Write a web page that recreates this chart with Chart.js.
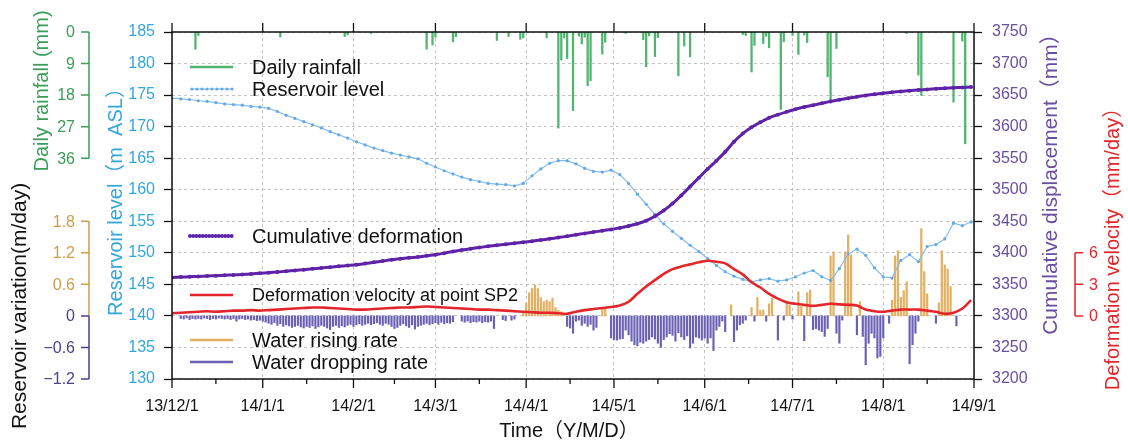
<!DOCTYPE html>
<html>
<head>
<meta charset="utf-8">
<script src="https://cdn.jsdelivr.net/npm/chart.js@4.4.1/dist/chart.umd.min.js"></script>
<style>
  html, body { margin: 0; padding: 0; background: #fff; }
  #wrap { width: 1128px; height: 444px; }
</style>
</head>
<body>
<div id="wrap"><canvas id="chart" width="1128" height="444"></canvas></div>
<script>
(function () {
  "use strict";

  var FONT = '"Liberation Sans", Arial, "Noto Sans CJK SC", sans-serif';

  /* ── Time axis: day offsets counted from 2013-12-01 ── */
  var monthDays = [0, 31, 62, 90, 121, 151, 182, 212, 243, 274];
  var monthLabels = ["13/12/1", "14/1/1", "14/2/1", "14/3/1", "14/4/1", "14/5/1", "14/6/1", "14/7/1", "14/8/1", "14/9/1"];
  var midMonthDays = [15, 46, 76, 105, 136, 166, 197, 227, 258];

  /* ── Monitoring series, sampled every third day ── */
  var sampleDays = [
    0, 3, 6, 9, 12, 15, 18, 21, 24, 27,
    30, 33, 36, 39, 42, 45, 48, 51, 54, 57,
    60, 63, 66, 69, 72, 75, 78, 81, 84, 87,
    90, 93, 96, 99, 102, 105, 108, 111, 114, 117,
    120, 123, 126, 129, 132, 135, 138, 141, 144, 147,
    150, 153, 156, 159, 162, 165, 168, 171, 174, 177,
    180, 183, 186, 189, 192, 195, 198, 201, 204, 207,
    210, 213, 216, 219, 222, 225, 228, 231, 234, 237,
    240, 243, 246, 249, 252, 255, 258, 261, 264, 267,
    270, 273
  ];

  // reservoir level, m ASL
  var reservoirLevel = [
    174.5, 174.4, 174.3, 174.1, 174.0, 173.8, 173.6, 173.5, 173.4, 173.2,
    173.1, 172.9, 172.4, 171.8, 171.3, 170.8, 170.3, 169.8, 169.2, 168.7,
    168.2, 167.6, 167.1, 166.6, 166.2, 165.8, 165.5, 165.2, 164.9, 164.2,
    163.6, 163.0, 162.5, 162.0, 161.6, 161.3, 161.0, 160.9, 160.8, 160.6,
    161.0, 162.2, 163.3, 164.2, 164.6, 164.6, 164.1, 163.4, 162.9, 162.8,
    163.1, 162.4, 161.0, 159.3, 157.7, 156.1, 154.6, 153.4, 152.3, 151.2,
    150.2, 149.1, 148.0, 147.0, 146.3, 145.8, 145.4, 145.7, 145.9, 145.5,
    145.7, 146.2, 146.8, 147.2, 146.2, 145.6, 147.5, 149.8, 150.6, 149.6,
    147.6, 146.2, 146.0, 148.8, 149.7, 148.6, 151.0, 151.3, 152.2, 154.7,
    154.3, 154.9
  ];

  // cumulative displacement, mm
  var cumulativeDisp = [
    3361, 3361.5, 3362, 3362.6, 3363.2, 3363.8, 3364.4, 3365, 3365.8, 3366.6,
    3367.5, 3368.5, 3369.6, 3370.8, 3372, 3373.3, 3374.6, 3376, 3377.3, 3378.6,
    3379.8, 3381, 3383, 3385, 3387, 3389, 3390.5, 3392, 3393.5, 3395.2,
    3397, 3399.5, 3402, 3404.3, 3406.5, 3408.5, 3410.3, 3412, 3413.6, 3415.2,
    3416.8, 3418.5, 3420.3, 3422.2, 3424.2, 3426.4, 3428.6, 3430.8, 3433, 3435,
    3437, 3439.5, 3442.5, 3446, 3451, 3458, 3467, 3478, 3491, 3505,
    3519, 3533, 3546, 3560, 3576, 3589, 3599, 3607, 3614, 3619,
    3623.5, 3627.5, 3631, 3634, 3637, 3640, 3642.5, 3645, 3647.5, 3649.5,
    3651.5, 3653, 3654.5, 3655.8, 3657, 3658, 3659, 3660, 3660.8, 3661.5,
    3662.2, 3663
  ];

  // deformation velocity at SP2, mm/day
  var deformVelocity = [
    0.25, 0.3, 0.35, 0.4, 0.45, 0.4, 0.45, 0.5, 0.5, 0.55,
    0.5, 0.55, 0.6, 0.65, 0.7, 0.75, 0.8, 0.8, 0.75, 0.7,
    0.65, 0.6, 0.6, 0.65, 0.7, 0.75, 0.8, 0.8, 0.85, 0.9,
    0.85, 0.8, 0.75, 0.7, 0.65, 0.6, 0.6, 0.55, 0.5, 0.45,
    0.4, 0.35, 0.3, 0.3, 0.25, 0.2, 0.4, 0.55, 0.65, 0.75,
    0.85, 1.0, 1.35, 2.1, 2.8, 3.4, 4.0, 4.45, 4.7, 4.9,
    5.1, 5.25, 5.15, 5.0, 4.45, 3.95, 3.2, 2.7, 2.1, 1.65,
    1.3, 1.15, 1.05, 0.95, 1.05, 1.15, 1.1, 1.05, 1.0, 0.6,
    0.45, 0.4, 0.5, 0.6, 0.6, 0.6, 0.5, 0.4, 0.2, 0.3,
    0.7, 1.5
  ];

  /* ── Daily rainfall, mm (rain days only) ── */
  var rainDays = [8, 9, 37, 54, 59, 60, 68, 87, 89, 90, 96, 97, 111, 115, 119, 120, 128,
    132, 133, 134, 135, 137, 139, 140, 141, 142, 143, 147, 148, 155, 161, 162, 163, 165, 166,
    173, 175, 177, 195, 196, 198, 199, 202, 203, 204, 208, 209, 212, 214, 216, 217,
    224, 225, 227, 251, 255, 256, 267, 270, 271];
  var rainMm = [4.9, 1.0, 1.4, 0.3, 1.3, 0.8, 0.4, 4.9, 3.7, 1.5, 2.8, 1.3, 2.4, 1.3, 2.1, 1.7, 1.7,
    27.4, 8.0, 1.7, 7.6, 22.4, 1.2, 3.4, 1.5, 15.3, 13.9, 6.3, 2.9, 0.4, 2.2, 9.9, 1.1, 7.0, 1.6,
    12.5, 4.0, 7.1, 0.7, 1.0, 11.4, 3.8, 3.3, 1.2, 4.5, 22.1, 2.8, 1.0, 6.4, 0.9, 3.0,
    12.8, 19.5, 4.7, 0.4, 12.3, 18.1, 20.0, 2.6, 31.9];

  /* ── Daily reservoir variation, m/day (one value per day from day 0) ── */
  var dailyVariation = [
    0, 0, 0, -0.05, -0.06, -0.04, -0.07, -0.05, -0.06, -0.05,
    -0.06, -0.04, -0.05, -0.07, -0.05, -0.06, -0.04, -0.05, -0.06, -0.05,
    -0.07, -0.05, -0.1, -0.06, -0.05, -0.07, -0.06, -0.08, -0.07, -0.09,
    -0.08, -0.1, -0.12, -0.14, -0.16, -0.13, -0.18, -0.15, -0.2, -0.17,
    -0.19, -0.22, -0.2, -0.18, -0.21, -0.23, -0.2, -0.22, -0.19, -0.24,
    -0.21, -0.18, -0.2, -0.23, -0.26, -0.2, -0.18, -0.22, -0.19, -0.21,
    -0.18, -0.16, -0.2, -0.17, -0.15, -0.18, -0.16, -0.14, -0.17, -0.15,
    -0.13, -0.16, -0.18, -0.14, -0.16, -0.2, -0.24, -0.22, -0.18, -0.15,
    -0.19, -0.22, -0.17, -0.25, -0.2, -0.18, -0.16, -0.14, -0.17, -0.15,
    -0.13, -0.16, -0.12, -0.15, -0.13, -0.14, -0.11, 0, 0, -0.1,
    -0.12, -0.1, -0.13, -0.11, -0.12, -0.1, -0.13, -0.11, -0.12, -0.1,
    -0.24, 0, 0, -0.07, -0.09, 0, -0.08, -0.06, 0, 0,
    0.05, 0.24, 0.44, 0.52, 0.59, 0.52, 0.35, 0.27, 0.3, 0.27,
    0.34, 0.16, 0.11, 0.08, 0, -0.2, -0.23, -0.33, -0.1, -0.08,
    -0.18, -0.14, -0.2, -0.16, -0.27, -0.22, 0, 0.16, 0.15, 0,
    -0.42, -0.45, -0.46, -0.44, -0.43, -0.27, -0.36, -0.48, -0.55, -0.57,
    -0.5, -0.52, -0.48, -0.45, -0.4, -0.44, -0.52, -0.6, -0.45, -0.4,
    -0.34, -0.37, -0.48, -0.32, -0.4, -0.45, -0.38, -0.61, -0.52, -0.4,
    -0.42, -0.46, -0.42, -0.52, -0.42, -0.66, -0.27, -0.2, -0.1, -0.3,
    0, 0.21, -0.49, -0.27, -0.17, -0.14, -0.08, 0, 0.16, -0.1,
    0.35, 0.11, 0.11, -0.1, 0.23, 0.34, 0, -0.46, 0, -0.08,
    0.24, 0.2, -0.06, 0, 0.46, 0.18, -0.47, 0.44, 0.49, -0.26,
    -0.24, -0.27, -0.3, -0.39, -0.24, 1.14, 1.22, -0.33, -0.52, -0.08,
    1.22, 1.54, 1.16, 0, -0.36, 0.27, -0.39, -0.93, -0.52, -0.33,
    -0.42, -0.8, -0.77, -0.42, 0, -0.14, 0.3, 1.14, 1.24, 0.35,
    0.48, 0.65, -0.91, -0.55, -0.33, -0.1, 1.66, 0.84, 0.42, 0,
    0, -0.14, 0.25, 1.24, 0.97, 0.89, 0.56, 0, -0.19, 0,
    0, 0, 0, 0
  ];

  /* ── Tick values of the bracket axes ── */
  var rainTicks = [0, 9, 18, 27, 36];
  var risingTicks = [1.8, 1.2, 0.6];
  var droppingTicks = [0, -0.6, -1.2];
  var velocityTicks = [6, 3, 0];

  /* ── Colours ── */
  var GREEN = "#4fb46e", GREEN_TXT = "#3a9e58";
  var BLUE_LINE = "#86bdec", BLUE_DOT = "#62a9e6", BLUE_TXT = "#33a6dc";
  var PURPLE = "#5f23a8", PURPLE_TXT = "#6a4ea0";
  var RED = "#e3262b";
  var ORANGE = "#e4b064", ORANGE_TXT = "#cf9c48";
  var INDIGO = "#6a60b4", INDIGO_TXT = "#4c3f8e";
  var GRID = "#c4c4c4";

  function pairs(xs, ys) {
    return xs.map(function (x, i) { return { x: x, y: ys[i] }; });
  }

  var risingPts = [], droppingPts = [];
  dailyVariation.forEach(function (v, day) {
    if (v > 0) risingPts.push({ x: day, y: v });
    else if (v < 0) droppingPts.push({ x: day, y: v });
  });

  /* ── Drawing helpers for the extra axes, titles and legend ── */
  function bracket(ctx, scale, values, from, to, x, dir, color, labels) {
    ctx.strokeStyle = color;
    ctx.fillStyle = color;
    ctx.lineWidth = 1.5;
    ctx.beginPath();
    ctx.moveTo(x, scale.getPixelForValue(from));
    ctx.lineTo(x, scale.getPixelForValue(to));
    values.forEach(function (v) {
      var py = scale.getPixelForValue(v);
      ctx.moveTo(x, py);
      ctx.lineTo(x + dir * 8, py);
    });
    ctx.stroke();
    ctx.font = "16px " + FONT;
    ctx.textBaseline = "middle";
    ctx.textAlign = dir < 0 ? "right" : "left";
    values.forEach(function (v, i) {
      ctx.fillText(labels[i], x + dir * 14, scale.getPixelForValue(v) + 1);
    });
  }

  function verticalText(ctx, text, x, y, color, size) {
    ctx.save();
    ctx.translate(x, y);
    ctx.rotate(-Math.PI / 2);
    ctx.fillStyle = color;
    ctx.font = size + "px " + FONT;
    ctx.textAlign = "center";
    ctx.textBaseline = "alphabetic";
    ctx.fillText(text, 0, 0);
    ctx.restore();
  }

  var legendRows = [
    { label: "Daily rainfall", y: 67, color: GREEN, kind: "line", size: 20 },
    { label: "Reservoir level", y: 89, color: BLUE_LINE, kind: "dots", size: 20 },
    { label: "Cumulative deformation", y: 236, color: PURPLE, kind: "beads", size: 20 },
    { label: "Deformation velocity at point SP2", y: 295, color: RED, kind: "line", size: 18 },
    { label: "Water rising rate", y: 340, color: ORANGE, kind: "line", size: 20 },
    { label: "Water dropping rate", y: 362, color: INDIGO, kind: "line", size: 20 }
  ];

  var decor = {
    id: "decor",
    afterDraw: function (chart) {
      var ctx = chart.ctx;
      var area = chart.chartArea;
      var sx = chart.scales.x;
      ctx.save();

      // plot frame
      ctx.strokeStyle = "#111";
      ctx.lineWidth = 1.5;
      ctx.strokeRect(area.left, area.top, area.right - area.left, area.bottom - area.top);

      // month ticks top and bottom, half-month ticks at the bottom
      ctx.lineWidth = 1.3;
      ctx.beginPath();
      monthDays.forEach(function (d) {
        var px = sx.getPixelForValue(d);
        ctx.moveTo(px, area.top);
        ctx.lineTo(px, area.top - 9);
        ctx.moveTo(px, area.bottom);
        ctx.lineTo(px, area.bottom + 9);
      });
      midMonthDays.forEach(function (d) {
        var px = sx.getPixelForValue(d);
        ctx.moveTo(px, area.bottom);
        ctx.lineTo(px, area.bottom + 5);
      });
      ctx.stroke();

      // bracket axes
      bracket(ctx, chart.scales.yRain, rainTicks, 0, 36, 89, -1, GREEN_TXT,
        rainTicks.map(String));
      bracket(ctx, chart.scales.yVar, risingTicks, 1.8, 0, 89, -1, ORANGE_TXT,
        ["1.8", "1.2", "0.6"]);
      bracket(ctx, chart.scales.yVar, droppingTicks, 0, -1.2, 89, -1, INDIGO_TXT,
        ["0", "\u22120.6", "\u22121.2"]);
      bracket(ctx, chart.scales.yVel, velocityTicks, 6, 0, 1075, 1, RED,
        velocityTicks.map(String));

      // axis titles
      verticalText(ctx, "Daily rainfall (mm)", 48, 91, GREEN_TXT, 20);
      verticalText(ctx, "Reservoir variation(m/day)", 26, 306, "#111", 21);
      verticalText(ctx, "Reservoir level\uff08m  ASL\uff09", 122, 197, BLUE_TXT, 20);
      verticalText(ctx, "Cumulative displacement\uff08mm\uff09", 1057, 179, PURPLE_TXT, 21);
      verticalText(ctx, "Deformation velocity\uff08mm/day\uff09", 1119, 244, RED, 20);
      ctx.fillStyle = "#111";
      ctx.font = "20px " + FONT;
      ctx.textAlign = "center";
      ctx.textBaseline = "alphabetic";
      ctx.fillText("Time\uff08Y/M/D\uff09", 569, 437);

      // legend
      legendRows.forEach(function (row) {
        var x0 = 190, x1 = 233;
        ctx.strokeStyle = row.color;
        ctx.fillStyle = row.color;
        if (row.kind === "beads") {
          for (var bx = x0; bx <= x1; bx += 3.2) {
            ctx.beginPath();
            ctx.arc(bx, row.y, 2, 0, Math.PI * 2);
            ctx.fill();
          }
        } else {
          ctx.lineWidth = row.kind === "dots" ? 1.2 : 2.5;
          ctx.beginPath();
          ctx.moveTo(x0, row.y);
          ctx.lineTo(x1, row.y);
          ctx.stroke();
          if (row.kind === "dots") {
            ctx.fillStyle = BLUE_DOT;
            for (var dx = x0 + 2; dx <= x1; dx += 5) {
              ctx.beginPath();
              ctx.arc(dx, row.y, 1.6, 0, Math.PI * 2);
              ctx.fill();
            }
          }
        }
        ctx.fillStyle = "#111";
        ctx.font = row.size + "px " + FONT;
        ctx.textAlign = "left";
        ctx.textBaseline = "middle";
        ctx.fillText(row.label, 252, row.y + 1);
      });

      ctx.restore();
    }
  };

  function plainNumber(v) { return String(v); }

  new Chart(document.getElementById("chart"), {
    type: "line",
    data: {
      datasets: [
        {
          type: "bar",
          data: pairs(rainDays, rainMm),
          yAxisID: "yRain",
          backgroundColor: GREEN,
          barThickness: 1.6,
          grouped: false,
          order: 5
        },
        {
          type: "bar",
          data: risingPts,
          yAxisID: "yVar",
          backgroundColor: ORANGE,
          barThickness: 1.6,
          grouped: false,
          order: 5
        },
        {
          type: "bar",
          data: droppingPts,
          yAxisID: "yVar",
          backgroundColor: INDIGO,
          barThickness: 1.5,
          grouped: false,
          order: 5
        },
        {
          data: pairs(sampleDays, reservoirLevel),
          yAxisID: "y",
          borderColor: BLUE_LINE,
          borderWidth: 1.2,
          pointRadius: 1.6,
          pointBorderWidth: 0,
          pointBackgroundColor: BLUE_DOT,
          tension: 0,
          order: 3
        },
        {
          data: pairs(sampleDays, cumulativeDisp),
          yAxisID: "yCum",
          borderColor: PURPLE,
          borderWidth: 3,
          pointRadius: 2,
          pointBorderWidth: 0,
          pointBackgroundColor: PURPLE,
          tension: 0.3,
          order: 2
        },
        {
          data: pairs(sampleDays, deformVelocity),
          yAxisID: "yVel",
          borderColor: RED,
          borderWidth: 2.6,
          pointRadius: 0,
          tension: 0.3,
          order: 1
        }
      ]
    },
    options: {
      responsive: false,
      animation: false,
      layout: { padding: { left: 100, right: 80, top: 32, bottom: 0 } },
      plugins: { legend: { display: false }, tooltip: { enabled: false } },
      scales: {
        x: {
          type: "linear",
          min: 0,
          max: 274,
          offset: false,
          afterBuildTicks: function (scale) {
            scale.ticks = monthDays.map(function (v) { return { value: v }; });
          },
          afterFit: function (scale) { scale.height = 65; },
          ticks: {
            autoSkip: false,
            maxRotation: 0,
            padding: 18,
            color: "#111",
            font: { family: FONT, size: 16 },
            callback: function (value, index) { return monthLabels[index]; }
          },
          grid: { color: GRID, lineWidth: 1, drawTicks: false, offset: false },
          border: { display: false, dash: [3, 3] }
        },
        y: {
          axis: "y",
          position: "left",
          min: 130,
          max: 185,
          afterFit: function (scale) { scale.width = 72; },
          ticks: { stepSize: 5, padding: 9, color: BLUE_TXT, font: { family: FONT, size: 16 } },
          grid: { color: GRID, lineWidth: 1, tickLength: 8, tickColor: "#111", tickWidth: 1.3, tickBorderDash: [] },
          border: { display: false, dash: [3, 3] }
        },
        yCum: {
          axis: "y",
          position: "right",
          min: 3200,
          max: 3750,
          afterFit: function (scale) { scale.width = 74; },
          ticks: { stepSize: 50, padding: 10, color: PURPLE_TXT, font: { family: FONT, size: 16 }, callback: plainNumber },
          grid: { drawOnChartArea: false, tickLength: 8, tickColor: "#111", tickWidth: 1.3 },
          border: { display: false }
        },
        yRain: { axis: "y", position: "left", display: false, reverse: true, min: 0, max: 99 },
        yVar: { axis: "y", position: "left", display: false, min: -1.2, max: 5.4 },
        yVel: { axis: "y", position: "right", display: false, min: -6, max: 27 }
      }
    },
    plugins: [decor]
  });
})();
</script>
</body>
</html>
